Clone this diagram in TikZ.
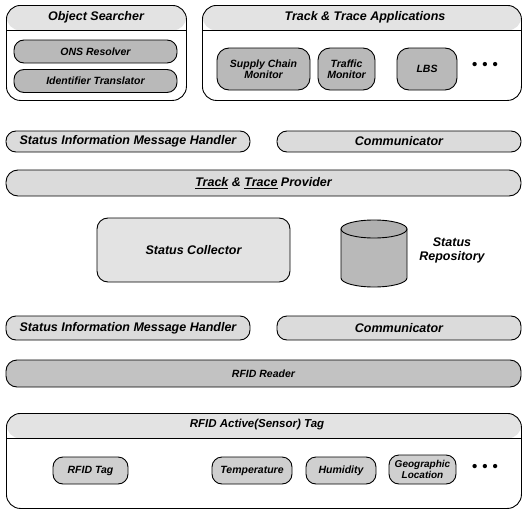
\documentclass[tikz,border=0pt]{standalone}
\usepackage{fontspec}
\setmainfont{Liberation Sans}
\newcommand{\bigtxt}{\fontsize{12.5}{14}\selectfont\bfseries\itshape}
\newcommand{\smalltxt}{\fontsize{10.5}{11.5}\selectfont\bfseries\itshape}
\begin{document}
\begin{tikzpicture}[x=1pt,y=-1pt,
  base/.style={draw=black, line width=0.9pt, align=center, inner sep=1pt},
  container/.style={base, rounded corners=14pt, anchor=north west, fill=white,
    path picture={
      \fill[gray!22] (path picture bounding box.north west) rectangle ([yshift=-#1]path picture bounding box.north east);
      \draw[line width=0.9pt] ([yshift=-#1]path picture bounding box.north west) -- ([yshift=-#1]path picture bounding box.north east);}},
  title/.style={font=\bigtxt, inner sep=0pt},
  darkpill/.style={base, rounded corners=10pt, fill=gray!55, font=\smalltxt},
  lightpill/.style={base, rounded corners=10pt, fill=gray!28, font=\bigtxt},
  tagpill/.style={base, rounded corners=10pt, fill=gray!38, font=\smalltxt},
  readerbar/.style={base, rounded corners=11pt, fill=gray!48, font=\smalltxt},
  collector/.style={base, rounded corners=11pt, fill=gray!22, font=\bigtxt},
  drum/.style={draw=black, line width=0.9pt, fill=gray!55},
  dots/.style={font=\fontsize{15}{15}\selectfont\bfseries, inner sep=0pt}
]
\useasboundingbox (0,0) rectangle (525,514);

% --- top containers ---
\node[container=25pt, minimum width=180, minimum height=95] (os) at (6,5) {};
\node[title] (ostitle) at (96,17) {Object Searcher};
\node[darkpill, minimum width=163, minimum height=23] (ons) at (95.5,51.5) {ONS Resolver};
\node[darkpill, minimum width=163, minimum height=23] (idt) at (95.5,81) {Identifier Translator};

\node[container=25pt, minimum width=319, minimum height=95] (apps) at (202,5) {};
\node[title] (appstitle) at (365,17) {Track \& Trace Applications};
\node[darkpill, minimum width=93, minimum height=42, rounded corners=12pt] (scm) at (263.5,69) {Supply Chain\\Monitor};
\node[darkpill, minimum width=57, minimum height=42, rounded corners=12pt] (tm) at (346.5,69) {Traffic\\Monitor};
\node[darkpill, minimum width=60, minimum height=42, rounded corners=12pt] (lbs) at (427,69) {LBS};
\node[dots] (appsdots) at (485,66) {•\,\,•\,\,•};

% --- provider layer ---
\node[lightpill, minimum width=244, minimum height=21] (simh1) at (128,141.5) {Status Information Message Handler};
\node[lightpill, minimum width=244, minimum height=21] (comm1) at (399,141.5) {Communicator};
\node[lightpill, minimum width=515, minimum height=26, rounded corners=12pt] (prov) at (263.5,183) {\underline{Track} \& \underline{Trace} Provider};

\node[collector, minimum width=193, minimum height=64] (coll) at (193.5,250) {Status Collector};

% status repository drum
\node[minimum width=66, minimum height=67, inner sep=0pt] (repo) at (374,253.5) {};
\draw[drum] (341,229) -- (341,278) arc[start angle=180, end angle=0, x radius=33, y radius=9] -- (407,229) -- cycle;
\draw[drum, fill=gray!62] (374,229) ellipse[x radius=33, y radius=9];
\node[title, align=center] (repotext) at (452,250) {Status\\Repository};

\node[lightpill, minimum width=244, minimum height=24] (simh2) at (128,328) {Status Information Message Handler};
\node[lightpill, minimum width=244, minimum height=24] (comm2) at (399,328) {Communicator};
\node[readerbar, minimum width=515, minimum height=27] (reader) at (263.5,373.5) {RFID Reader};

% --- tag container ---
\node[container=25pt, minimum width=515, minimum height=95] (tag) at (6,413) {};
\node[title, font=\fontsize{11.5}{13}\selectfont\bfseries\itshape] (tagtitle) at (257,425) {RFID Active(Sensor) Tag};
\node[tagpill, minimum width=75, minimum height=27] (rfidtag) at (90.5,470.5) {RFID Tag};
\node[tagpill, minimum width=80, minimum height=27] (temp) at (252,470.5) {Temperature};
\node[tagpill, minimum width=70, minimum height=27] (hum) at (341,470.5) {Humidity};
\node[tagpill, minimum width=67, minimum height=29, font=\fontsize{10}{10.5}\selectfont\bfseries\itshape] (geo) at (422.5,469.5) {Geographic\\Location};
\node[dots] (tagdots) at (485,468) {•\,\,•\,\,•};
\end{tikzpicture}
\end{document}
